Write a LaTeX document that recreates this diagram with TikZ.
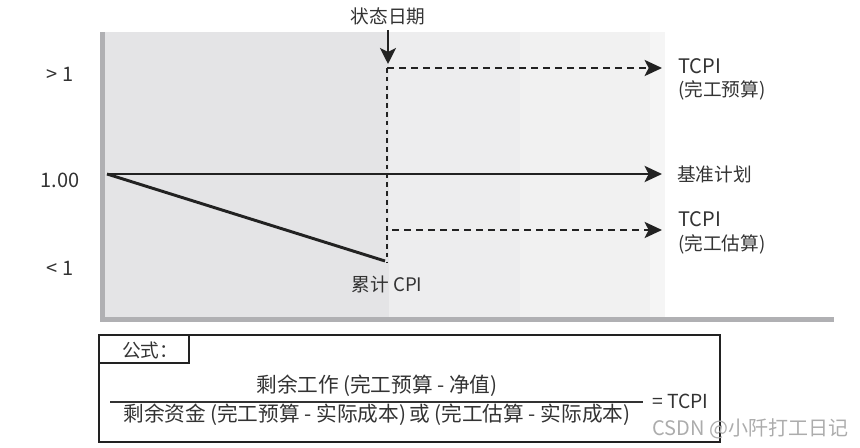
\documentclass[tikz,border=0pt]{standalone}
\usepackage{fontspec}
\setmainfont{Noto Sans CJK SC}
\usetikzlibrary{arrows.meta}
\definecolor{panelA}{HTML}{E4E4E6}
\definecolor{panelB}{HTML}{EDEDEE}
\definecolor{panelC}{HTML}{F1F1F1}
\definecolor{panelD}{HTML}{F5F5F5}
\definecolor{axisgray}{HTML}{B0B0B3}
\definecolor{ink}{HTML}{222222}
\definecolor{txt}{HTML}{333333}
\newcommand{\lp}{\hspace{3pt}(}
\newcommand{\rp}{)\hspace{3pt}}
\tikzset{
  lbl/.style={inner sep=0pt, font=\fontsize{14}{16}\selectfont, text=txt},
  latinlbl/.style={inner sep=0pt, font=\fontsize{15}{17}\selectfont, text=txt},
  fml/.style={inner sep=0pt, font=\fontsize{15.5}{17}\selectfont, text=txt},
  solidarrow/.style={draw=ink, line width=2.2pt, -{Stealth[length=13pt,width=12pt,inset=3pt]}},
  solidline/.style={draw=ink, line width=2.2pt},
  dasharrow/.style={draw=ink, line width=2pt, dash pattern=on 5.2pt off 3.8pt, -{Stealth[length=13pt,width=12pt,inset=3pt]}},
  dotline/.style={draw=ink, line width=2.2pt, dash pattern=on 3.4pt off 3.2pt},
  framebox/.style={draw=ink, line width=1.1pt},
}
\begin{document}
\begin{tikzpicture}[x=0.75pt,y=-0.75pt]
\useasboundingbox (0,0) rectangle (860,448);
% background panel
\fill[panelA] (100,32) rectangle (389,318);
\fill[panelB] (389,32) rectangle (520,318);
\fill[panelC] (520,32) rectangle (650,318);
\fill[panelD] (650,32) rectangle (665,318);
% axes
\fill[axisgray] (100,32) rectangle (105,322);
\fill[axisgray] (100,317) rectangle (834,322);
% y labels
\node[latinlbl] (gt) at (60,74) {> 1};
\node[latinlbl] (one) at (60,180) {1.00};
\node[latinlbl] (lt) at (60,268) {< 1};
% coordinates
\coordinate (o) at (107,174);
\coordinate (be) at (662,174);
\coordinate (cum) at (385,261);
\coordinate (vtop) at (387,68);
\coordinate (vbot) at (387,262);
\coordinate (ue) at (662,68);
\coordinate (ls) at (392,230);
\coordinate (le) at (662,230);
\coordinate (st) at (388,30);
\coordinate (sb) at (388,64);
% labels
\node[lbl] (sd) at (388,16) {状态日期};
\node[latinlbl, anchor=west] (tcpi1) at (678,66) {TCPI};
\node[lbl, anchor=west] (bac) at (678,90) {(完工预算)};
\node[lbl, anchor=west] (plan) at (677,174) {基准计划};
\node[latinlbl, anchor=west] (tcpi2) at (678,219) {TCPI};
\node[lbl, anchor=west] (eac) at (678,244) {(完工估算)};
\node[lbl] (ccpi) at (387,284) {累计 CPI};
% lines
\draw[solidarrow] (o) -- (be);
\draw[solidline] (o) -- (cum);
\draw[dotline] (vtop) -- (vbot);
\draw[dasharrow] (vtop) -- (ue);
\draw[dasharrow] (ls) -- (le);
\draw[ink, line width=2pt, -{Stealth[length=12pt,width=12pt,inset=3pt]}] (st) -- (sb);
% formula box
\draw[framebox] (99,335) rectangle (720,442);
\draw[framebox] (99,335) rectangle (189,363);
\node[lbl, anchor=west] (gs) at (122,350) {公式：};
\coordinate (fl) at (110,402);
\coordinate (fr) at (643,402);
\draw[txt, line width=1pt] (fl) -- (fr);
\node[fml] (num) at (377,386) {剩余工作\lp 完工预算 - 净值)};
\node[fml] (den) at (377,415) {剩余资金\lp 完工预算 - 实际成本\rp 或\lp 完工估算 - 实际成本)};
\node[fml, font=\fontsize{14.5}{17}\selectfont, anchor=west] (eq) at (652,401) {= TCPI};
\node[inner sep=0pt, anchor=west, font=\fontsize{15}{17}\selectfont, text=gray!65] (wm) at (652,429) {CSDN @小阡打工日记};
\end{tikzpicture}
\end{document}
